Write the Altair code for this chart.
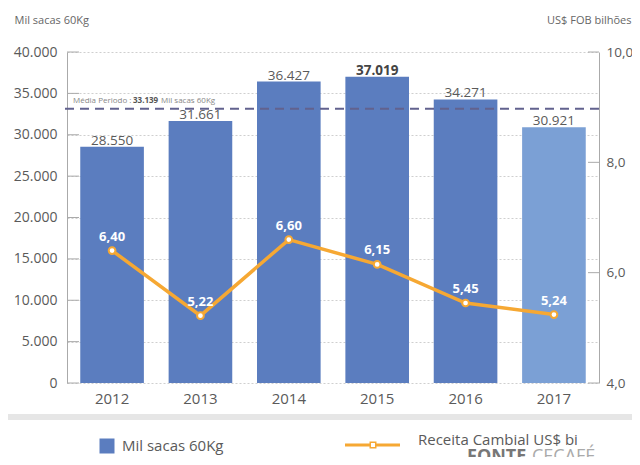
import altair as alt
import pandas as pd

years = ["2012", "2013", "2014", "2015", "2016", "2017"]
sacas = [28550, 31661, 36427, 37019, 34271, 30921]
receita = [6.40, 5.22, 6.60, 6.15, 5.45, 5.24]
media = 33139
left_ticks = [0, 5000, 10000, 15000, 20000, 25000, 30000, 35000, 40000]
right_ticks = [4, 6, 8, 10]

FONT = "Open Sans"
BLUE = "#5b7dbf"
LIGHT = "#7ba0d5"
ORANGE = "#f6a833"
GRAY = "#5a5a5a"

df = pd.DataFrame({
    "ano": years,
    "sacas": sacas,
    "receita": receita,
    "sacas_lbl": [f"{v:,}".replace(",", ".") for v in sacas],
    "rec_lbl": [f"{v:.2f}".replace(".", ",") for v in receita],
    "tipo": ["a", "a", "a", "a", "a", "b"],
})

W, H = 532, 331
x = alt.X("ano:N", title=None,
          scale=alt.Scale(paddingInner=0.28, paddingOuter=0.15),
          axis=alt.Axis(labelFont=FONT, labelFontSize=15, labelColor=GRAY,
                        domain=False, ticks=False, labelPadding=8, labelAngle=0))

yl_scale = alt.Scale(domain=[0, 40000], nice=False, zero=True)
yr_scale = alt.Scale(domain=[4, 10], nice=False, zero=False)

base = alt.Chart(df)

bars = base.mark_bar().encode(
    x=x,
    y=alt.Y("sacas:Q", scale=yl_scale,
            axis=alt.Axis(orient="left", values=left_ticks, title="Mil sacas 60Kg",
                          titleAngle=0, titleX=-53, titleY=-32, titleAlign="left",
                          titleBaseline="middle", titleFont=FONT, titleFontSize=11,
                          titleFontWeight="normal", titleColor="#666",
                          labelFont=FONT, labelFontSize=14, labelColor=GRAY,
                          labelPadding=10, ticks=False, domainColor="#aaaaaa",
                          grid=True, gridColor="#cfcfcf", gridDash=[2, 2],
                          labelExpr="replace(format(datum.value, ',d'), ',', '.')")),
    color=alt.Color("tipo:N", scale=alt.Scale(domain=["a", "b"], range=[BLUE, LIGHT]), legend=None),
)

bar_lbl = base.transform_filter("datum.ano != '2015'").mark_text(
    font=FONT, fontSize=13.5, color=GRAY, baseline="alphabetic", dy=-2
).encode(x=x, y=alt.Y("sacas:Q", scale=yl_scale), text="sacas_lbl:N")

bar_lbl_b = base.transform_filter("datum.ano == '2015'").mark_text(
    font=FONT, fontSize=13.5, color="#444", baseline="alphabetic", dy=-2, fontWeight="bold"
).encode(x=x, y=alt.Y("sacas:Q", scale=yl_scale), text="sacas_lbl:N")

lt_df = pd.DataFrame({"v": left_ticks})
left_tick_marks = alt.Chart(lt_df).mark_rule(color="#aaaaaa", strokeWidth=1).encode(
    y=alt.Y("v:Q", scale=yl_scale), x=alt.value(0), x2=alt.value(12))

mean_df = pd.DataFrame({"m": [media], "m_lbl": [f"{media:,}".replace(",", ".")]})
mean_rule = alt.Chart(mean_df).mark_rule(color="#62628e", strokeWidth=2, strokeDash=[9, 6]).encode(
    y=alt.Y("m:Q", scale=yl_scale), x=alt.value(-2), x2=alt.value(533))
mean_t1 = alt.Chart(mean_df).mark_text(font=FONT, fontSize=8, color="#888", align="left",
                                       baseline="bottom", dy=-4).encode(
    y=alt.Y("m:Q", scale=yl_scale), x=alt.value(6), text=alt.value("Média Periodo :"))
mean_t2 = alt.Chart(mean_df).mark_text(font=FONT, fontSize=8, color="#555", align="left",
                                       baseline="bottom", dy=-4, fontWeight="bold").encode(
    y=alt.Y("m:Q", scale=yl_scale), x=alt.value(66), text="m_lbl:N")
mean_t3 = alt.Chart(mean_df).mark_text(font=FONT, fontSize=8, color="#888", align="left",
                                       baseline="bottom", dy=-4).encode(
    y=alt.Y("m:Q", scale=yl_scale), x=alt.value(94), text=alt.value("Mil sacas 60Kg"))

left = alt.layer(bars, left_tick_marks, mean_rule, mean_t1, mean_t2, mean_t3, bar_lbl, bar_lbl_b)

line = base.mark_line(color=ORANGE, strokeWidth=3.5).encode(
    x=x,
    y=alt.Y("receita:Q", scale=yr_scale,
            axis=alt.Axis(orient="right", values=right_ticks, title="US$ FOB bilhões",
                          titleAngle=0, titleX=32, titleY=-32, titleAlign="right",
                          titleBaseline="middle", titleFont=FONT, titleFontSize=11,
                          titleFontWeight="normal", titleColor="#666",
                          labelFont=FONT, labelFontSize=13.5, labelColor=GRAY,
                          labelPadding=7, ticks=False, domainColor="#aaaaaa", grid=False,
                          labelExpr="replace(format(datum.value, '.1f'), '.', ',')")))
pts = base.mark_point(filled=True, fill="white", stroke=ORANGE, strokeWidth=2, size=45, opacity=1).encode(
    x=x, y=alt.Y("receita:Q", scale=yr_scale))
line_lbl = base.mark_text(font=FONT, fontSize=13, fontWeight="bold", color="white",
                          baseline="bottom", dy=-7).encode(
    x=x, y=alt.Y("receita:Q", scale=yr_scale), text="rec_lbl:N")

rt_df = pd.DataFrame({"v": right_ticks})
right_tick_marks = alt.Chart(rt_df).mark_rule(color="#aaaaaa", strokeWidth=1).encode(
    y=alt.Y("v:Q", scale=yr_scale), x=alt.value(W - 11), x2=alt.value(W))

right = alt.layer(right_tick_marks, line, pts, line_lbl)

one = pd.DataFrame({"k": [0]})
band = alt.Chart(one).mark_rule(color="#e6e6e6", strokeWidth=6).encode(
    x=alt.value(-59), x2=alt.value(565), y=alt.value(365))
leg_sq = alt.Chart(one).mark_square(color=BLUE, size=225, opacity=1).encode(
    x=alt.value(40), y=alt.value(394))
leg_t1 = alt.Chart(one).mark_text(font=FONT, fontSize=15, color=GRAY, align="left",
                                  baseline="middle").encode(
    x=alt.value(55), y=alt.value(394), text=alt.value("Mil sacas 60Kg"))
leg_ln = alt.Chart(one).mark_rule(color=ORANGE, strokeWidth=3).encode(
    x=alt.value(278), x2=alt.value(333), y=alt.value(393))
leg_pt = alt.Chart(one).mark_square(fill="white", stroke=ORANGE, strokeWidth=1.5, size=30, opacity=1).encode(
    x=alt.value(306), y=alt.value(393))
leg_t2 = alt.Chart(one).mark_text(font=FONT, fontSize=15, color=GRAY, align="left",
                                  baseline="middle").encode(
    x=alt.value(351), y=alt.value(388), text=alt.value("Receita Cambial US$ bi"))
fonte1 = alt.Chart(one).mark_text(font=FONT, fontSize=18, color="#777", align="left",
                                  baseline="top", fontWeight="bold").encode(
    x=alt.value(400), y=alt.value(396), text=alt.value("FONTE"))
fonte2 = alt.Chart(one).mark_text(font=FONT, fontSize=18, color="#aaa", align="left",
                                  baseline="top").encode(
    x=alt.value(465), y=alt.value(396), text=alt.value("CECAFÉ"))

extras = alt.layer(band, leg_sq, leg_t1, leg_ln, leg_pt, leg_t2, fonte1, fonte2)

chart = alt.layer(left, right, extras).resolve_scale(y="independent").properties(
    width=W, height=H,
    autosize=alt.AutoSizeParams(type="none"),
    padding={"left": 59, "top": 44, "right": 33, "bottom": 74},
).configure_view(stroke=None)

chart.save("out.html", embed_options={"renderer": "svg", "actions": False})
